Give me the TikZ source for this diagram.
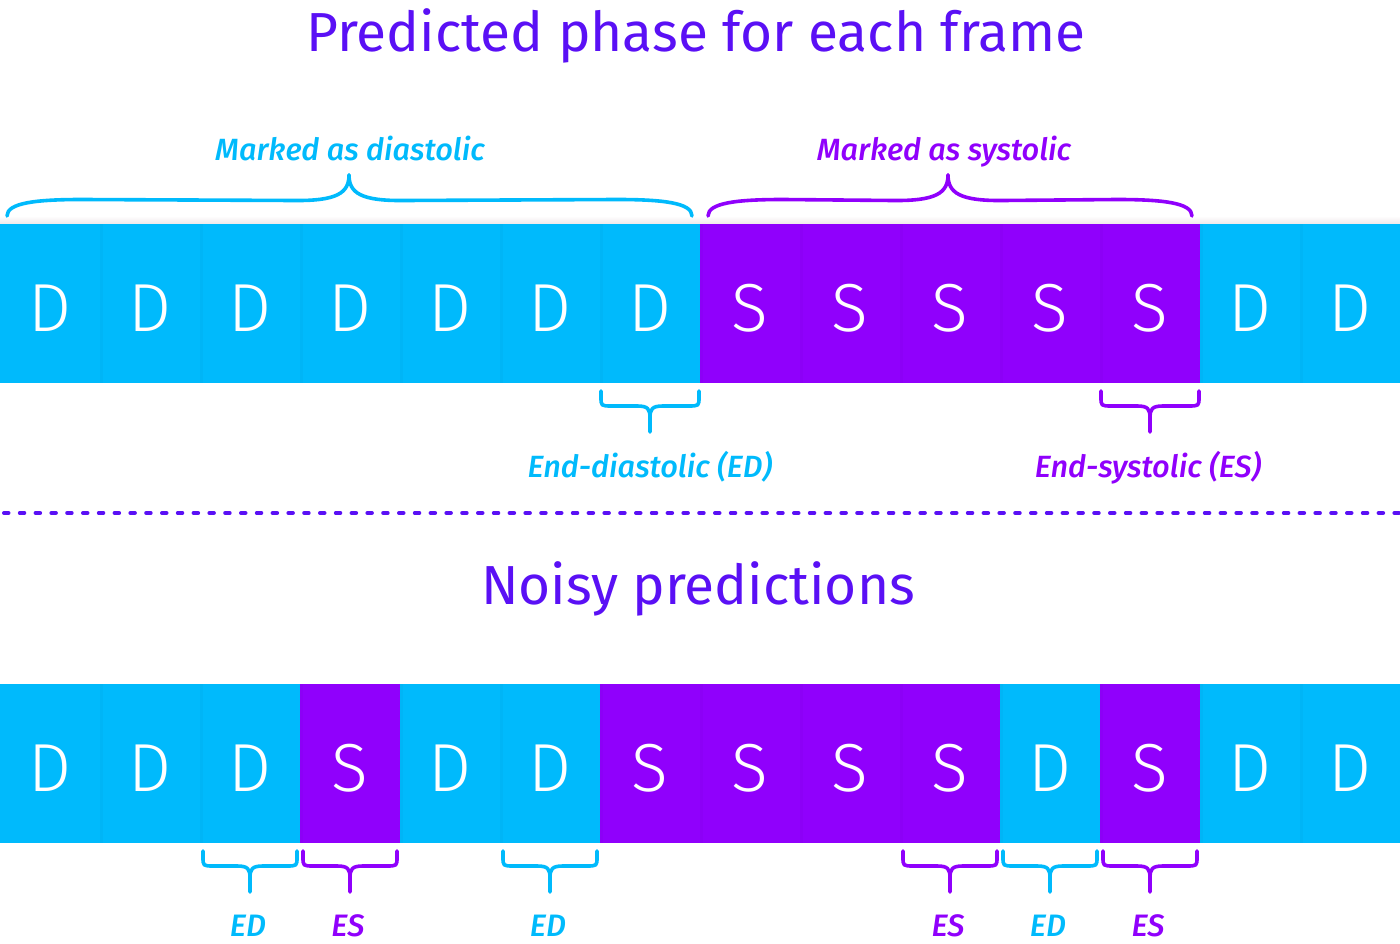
\documentclass[tikz,border=0pt]{standalone}
\usepackage{fontspec}
\setmainfont{Fira Sans}
\newfontfamily\lightfont{Fira Sans Light}
\newfontfamily\labelfont{Fira Sans Medium Italic}
\definecolor{cy}{HTML}{00BAFC}
\definecolor{pu}{HTML}{9000FC}
\definecolor{ti}{HTML}{5A10F5}
\definecolor{shad}{RGB}{240,232,234}
\def\letterS{S}
\tikzset{
  cell/.style={minimum width=100pt, minimum height=159pt, inner sep=0pt, outer sep=0pt, anchor=north west,
    text height=56pt, text depth=0pt,
    text=white, font=\lightfont\fontsize{68}{68}\selectfont},
  dcell/.style={cell, fill=cy},
  scell/.style={cell, fill=pu},
  bracepen/.style={line width=3.6pt, line cap=round, line join=round},
  bigtitle/.style={text=ti, anchor=base, font=\fontsize{55}{60}\selectfont},
  biglabel/.style={anchor=base, font=\labelfont\fontsize{30.7}{34}\selectfont},
  smalllabel/.style={anchor=base, font=\labelfont\fontsize{31}{32}\selectfont},
}
\newcommand\smallbrace[4]{%
  \draw[#4, bracepen] (#1,#3) -- ({#1},{#3+6}) .. controls ({#1},{#3+15}) .. ({#1+11},{#3+15})
     -- ({(#1+#2)/2-13},{#3+15}) .. controls ({(#1+#2)/2-2},{#3+15}) and ({(#1+#2)/2},{#3+18}) .. ({(#1+#2)/2},{#3+27}) -- ({(#1+#2)/2},{#3+41});
  \draw[#4, bracepen] (#2,#3) -- ({#2},{#3+6}) .. controls ({#2},{#3+15}) .. ({#2-11},{#3+15})
     -- ({(#1+#2)/2+13},{#3+15}) .. controls ({(#1+#2)/2+2},{#3+15}) and ({(#1+#2)/2},{#3+18}) .. ({(#1+#2)/2},{#3+27});
}
\newcommand\bigbrace[4]{%
  \draw[#4, bracepen] (#1,216) .. controls ({#1},{203}) and ({#1+28},{199.5}) .. ({#1+75},{199.5})
     -- ({#3-55},{200.5}) .. controls ({#3-12},{201}) and ({#3},{193}) .. ({#3},{175});
  \draw[#4, bracepen] (#2,216) .. controls ({#2},{203}) and ({#2-28},{199.5}) .. ({#2-75},{199.5})
     -- ({#3+55},{200.5}) .. controls ({#3+12},{201}) and ({#3},{193}) .. ({#3},{175});
}
\begin{document}
\begin{tikzpicture}[x=1pt, y=-1pt]
\useasboundingbox (0,0) rectangle (1400,944);
\fill[white] (0,0) rectangle (1400,944);

% titles
\node[bigtitle] (title1) at (696,52) {Predicted phase for each frame};
\node[bigtitle] (title2) at (698,604) {Noisy predictions};

% faint shadow above the top row
\shade[top color=white, bottom color=shad] (0,216) rectangle (1400,224);

% top row
\foreach \l [count=\i from 0] in {D,D,D,D,D,D,D,S,S,S,S,S,D,D}{
  \ifx\l\letterS\def\st{scell}\else\def\st{dcell}\fi
  \node[\st] (t\i) at ({100*\i},224) {\l};
  \ifnum\i>0 \fill[black, opacity=0.025] ({100*\i},224) rectangle ({100*\i+3},383);\fi
}
% bottom row
\foreach \l [count=\i from 0] in {D,D,D,S,D,D,S,S,S,S,D,S,D,D}{
  \ifx\l\letterS\def\st{scell}\else\def\st{dcell}\fi
  \node[\st] (b\i) at ({100*\i},684) {\l};
  \ifnum\i>0 \fill[black, opacity=0.025] ({100*\i},684) rectangle ({100*\i+3},843);\fi
}

% big braces
\bigbrace{7}{692}{349}{cy}
\bigbrace{708}{1192}{948}{pu}
\node[biglabel, text=cy] (md) at (350,161) {Marked as diastolic};
\node[biglabel, text=pu] (ms) at (944,161) {Marked as systolic};

% small braces under top row
\smallbrace{601}{699}{391}{cy}
\smallbrace{1101}{1199}{391}{pu}
\node[biglabel, text=cy] (ed) at (650,477) {End-diastolic (ED)};
\node[biglabel, text=pu] (es) at (1148,477) {End-systolic (ES)};

% dashed separator
\coordinate (dl) at (4,513);
\coordinate (dr) at (1400,513);
\draw[ti, line width=4pt, line cap=round, dash pattern=on 4.5pt off 11.3pt] (dl) -- (dr);

% small braces under bottom row
\smallbrace{203}{297}{851}{cy}
\smallbrace{303}{397}{851}{pu}
\smallbrace{503}{597}{851}{cy}
\smallbrace{903}{997}{851}{pu}
\smallbrace{1003}{1097}{851}{cy}
\smallbrace{1103}{1197}{851}{pu}
\node[smalllabel, text=cy] (l1) at (248,936) {ED};
\node[smalllabel, text=pu] (l2) at (348,936) {ES};
\node[smalllabel, text=cy] (l3) at (548,936) {ED};
\node[smalllabel, text=pu] (l4) at (948,936) {ES};
\node[smalllabel, text=cy] (l5) at (1048,936) {ED};
\node[smalllabel, text=pu] (l6) at (1148,936) {ES};
\end{tikzpicture}
\end{document}
